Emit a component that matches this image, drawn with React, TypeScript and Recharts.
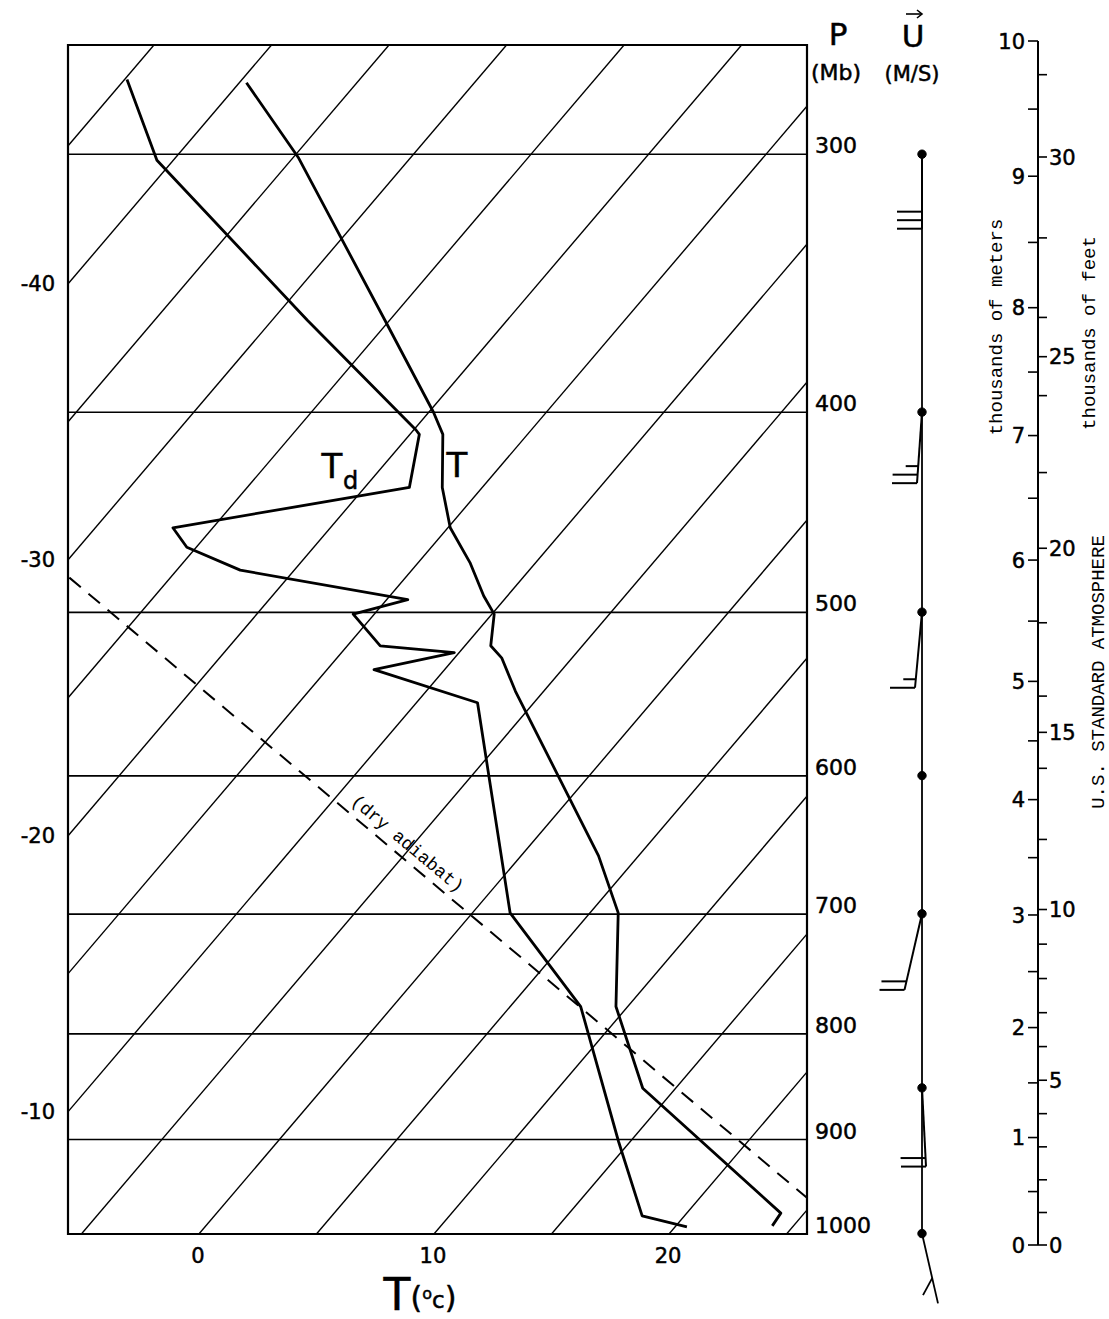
import React from "react";
import {
  ComposedChart,
  Line,
  XAxis,
  YAxis,
  ReferenceLine,
  ReferenceArea,
} from "recharts";

// skew-T / log-p: plotted x = T + SKEW * ln(1000 / p)
const SKEW = 32.5;
const P_TOP = 265.6;
const P_BOTTOM = 1000;
const X_MIN = -5.57;
const X_MAX = 25.87;

const PRESSURE_LEVELS = [300, 400, 500, 600, 700, 800, 900, 1000];
const ISOTHERMS = [-45, -40, -35, -30, -25, -20, -15, -10, -5, 0, 5, 10, 15, 20, 25];
const EDGE_LABELS = [-40, -30, -20, -10];
const BOTTOM_TICKS = [0, 10, 20];

// sounding (mb, °C)
const T_PRESSURE = [277, 301, 361, 400, 410, 435, 455, 473, 491, 501, 519, 526, 546, 656, 699, 776, 850, 977, 991];
const T_VALUES = [-39.7, -34.8, -25.2, -19.8, -18.6, -16.7, -14.9, -12.8, -11.0, -9.9, -8.9, -8.0, -6.2, 3.3, 6.2, 9.5, 13.6, 24.0, 24.1];
const TD_PRESSURE = [276, 302, 361, 408, 410, 435, 455, 465, 477, 493, 501, 519, 523, 533, 553, 699, 776, 902, 980, 992];
const TD_VALUES = [-44.9, -40.7, -28.5, -19.9, -19.6, -18.1, -26.7, -25.4, -22.3, -14.1, -15.9, -13.6, -10.2, -13.0, -7.4, 1.6, 8.0, 14.5, 18.2, 20.5];

// dry adiabat reference
const ADIABAT_PRESSURE = [481, 961];
const ADIABAT_T = [-29.3, 24.6];

// winds
const WIND_LEVELS = [300, 400, 500, 600, 700, 850, 1000];
const BARB_LEVELS = [300, 400, 500, 700, 850];
const BARB_TIP_P = [326, 433, 544, 762, 928];
const BARB_LEAN = [0, -2, -2.8, -7, 1.6];
const BARB_FEATHERS = [
  [10, 10, 10],
  [10, 10, 5],
  [10, 5],
  [10, 10],
  [10, 10],
];
const SURFACE_TIP_P = 1081;
const SURFACE_LEAN = 6.4;
const SURFACE_FEATHER_P = [1051, 1071];
const SURFACE_FEATHER_X = 0.4;

// standard atmosphere height scale
const KM_TICKS = [0, 0.5, 1, 1.5, 2, 2.5, 3, 3.5, 4, 4.5, 5, 5.5, 6, 6.5, 7, 7.5, 8, 8.5, 9, 9.5, 10];
const FT_TICKS = [0, 1, 2, 3, 4, 5, 6, 7, 8, 9, 10, 12, 14, 15, 16, 18, 20, 22, 24, 25, 26, 28, 30, 32];

const LETTER = "'DejaVu Sans', sans-serif";
const TYPE = "'Liberation Mono', 'DejaVu Sans Mono', monospace";
const PEN = { stroke: "#000", strokeWidth: 0.5 };

const skewPoint = (t: number, p: number) => ({ x: t + SKEW * Math.log(1000 / p), p });
const stdPressure = (z: number) => 1013.25 * Math.pow(1 - 2.25577e-5 * z, 5.25588);

const EDGE_TICKS = EDGE_LABELS.map((t) => 1000 * Math.exp((t - X_MIN) / SKEW));
const KM_P = KM_TICKS.map((z) => stdPressure(z * 1000));
const FT_P = FT_TICKS.map((f) => stdPressure(f * 304.8));

const tempData = T_PRESSURE.map((p, i) => skewPoint(T_VALUES[i], p));
const dewData = TD_PRESSURE.map((p, i) => skewPoint(TD_VALUES[i], p));
const adiabatData = ADIABAT_PRESSURE.map((p, i) => skewPoint(ADIABAT_T[i], p));

const FEATHER_STEP = 0.0095;

function barbParts(i: number) {
  const p0 = BARB_LEVELS[i];
  const tip = BARB_TIP_P[i];
  const lean = BARB_LEAN[i];
  const span = Math.log(tip / p0);
  const shaft = [
    { x: 0, p: p0 },
    { x: lean, p: tip },
  ];
  const feathers = BARB_FEATHERS[i].map((speed, k) => {
    const fp = tip * Math.exp(-k * FEATHER_STEP);
    const fx = (lean * Math.log(fp / p0)) / span;
    return [
      { x: fx, p: fp },
      { x: fx - speed, p: fp },
    ];
  });
  return { shaft, feathers };
}

const EdgeTick = ({ x, y, index }: any) => (
  <text x={x - 13} y={y} dy="0.36em" textAnchor="end" fontSize={21} fontFamily={LETTER} fill="#000" {...PEN}>
    {EDGE_LABELS[index] < 0 ? "-" + Math.abs(EDGE_LABELS[index]) : EDGE_LABELS[index]}
  </text>
);

const PressureTick = ({ x, y, payload }: any) => (
  <text x={x + 8} y={y - 1} fontSize={22} fontFamily={LETTER} fill="#000" {...PEN}>
    {payload.value}
  </text>
);

const BottomTick = ({ x, y, payload }: any) => (
  <text x={x - 1} y={y + 29} textAnchor="middle" fontSize={21} fontFamily={LETTER} fill="#000" {...PEN}>
    {payload.value}
  </text>
);

const KmTick = ({ x, y, index }: any) => {
  const z = KM_TICKS[index];
  return (
    <g>
      <line x1={x - 10} x2={x} y1={y} y2={y} stroke="#000" strokeWidth={1.6} />
      {Number.isInteger(z) && (
        <text x={x - 13} y={y} dy="0.36em" textAnchor="end" fontSize={21} fontFamily={LETTER} fill="#000" {...PEN}>
          {z}
        </text>
      )}
    </g>
  );
};

const FtTick = ({ x, y, index }: any) => {
  const f = FT_TICKS[index];
  return (
    <g>
      <line x1={x - 2} x2={x + 7} y1={y} y2={y} stroke="#000" strokeWidth={1.6} />
      {f % 5 === 0 && (
        <text x={x + 9} y={y} dy="0.36em" fontSize={21} fontFamily={LETTER} fill="#000" {...PEN}>
          {f}
        </text>
      )}
    </g>
  );
};

function SkewTChart() {
  return (
    <ComposedChart width={880} height={1319} margin={{ top: 45, right: 13, bottom: 55, left: 8 }}>
      <XAxis
        type="number"
        dataKey="x"
        domain={[X_MIN, X_MAX]}
        allowDataOverflow
        ticks={BOTTOM_TICKS}
        interval={0}
        axisLine={false}
        tickLine={false}
        tickSize={0}
        tickMargin={0}
        height={30}
        tick={<BottomTick />}
      />
      <YAxis
        yAxisId="iso"
        orientation="left"
        type="number"
        scale="log"
        domain={[P_TOP, P_BOTTOM]}
        reversed
        allowDataOverflow
        ticks={EDGE_TICKS}
        interval={0}
        axisLine={false}
        tickLine={false}
        tickSize={0}
        tickMargin={0}
        width={60}
        tick={<EdgeTick />}
      />
      <YAxis
        yAxisId="p"
        orientation="right"
        type="number"
        scale="log"
        domain={[P_TOP, P_BOTTOM]}
        reversed
        allowDataOverflow
        ticks={PRESSURE_LEVELS}
        interval={0}
        axisLine={false}
        tickLine={false}
        tickSize={0}
        tickMargin={0}
        width={60}
        tick={<PressureTick />}
      />
      {PRESSURE_LEVELS.slice(0, -1).map((p) => (
        <ReferenceLine key={p} yAxisId="p" y={p} stroke="#000" strokeWidth={1.6} />
      ))}
      {ISOTHERMS.map((t) => (
        <Line
          key={t}
          yAxisId="p"
          data={[skewPoint(t, P_BOTTOM), skewPoint(t, P_TOP)]}
          dataKey="p"
          stroke="#000"
          strokeWidth={1.4}
          dot={false}
          isAnimationActive={false}
        />
      ))}
      <Line
        yAxisId="p"
        data={adiabatData}
        dataKey="p"
        stroke="#000"
        strokeWidth={2}
        strokeDasharray="15 10"
        dot={false}
        isAnimationActive={false}
      />
      <Line
        yAxisId="p"
        data={dewData}
        dataKey="p"
        stroke="#000"
        strokeWidth={2.8}
        strokeLinejoin="round"
        dot={false}
        isAnimationActive={false}
      />
      <Line
        yAxisId="p"
        data={tempData}
        dataKey="p"
        stroke="#000"
        strokeWidth={2.8}
        strokeLinejoin="round"
        dot={false}
        isAnimationActive={false}
      />
      <ReferenceArea
        yAxisId="p"
        x1={X_MIN}
        x2={X_MAX}
        y1={P_TOP}
        y2={P_BOTTOM}
        fill="none"
        fillOpacity={0}
        stroke="#000"
        strokeWidth={2.2}
      />
    </ComposedChart>
  );
}

function WindColumn() {
  const barbs = BARB_LEVELS.map((_, i) => barbParts(i));
  const pSurfTop = SURFACE_FEATHER_P[0];
  const surfFx = (SURFACE_LEAN * Math.log(pSurfTop / 1000)) / Math.log(SURFACE_TIP_P / 1000);
  return (
    <ComposedChart width={90} height={1319} margin={{ top: 45, right: 10, bottom: 9, left: 10 }}>
      <XAxis type="number" dataKey="x" domain={[-20, 8]} allowDataOverflow hide />
      <YAxis type="number" scale="log" domain={[P_TOP, 1089]} reversed allowDataOverflow hide />
      <Line
        data={WIND_LEVELS.map((p) => ({ x: 0, p }))}
        dataKey="p"
        stroke="#000"
        strokeWidth={1.8}
        dot={{ r: 4.2, fill: "#000", stroke: "#000", strokeWidth: 1 }}
        isAnimationActive={false}
      />
      {barbs.map((b, i) => (
        <Line
          key={"s" + i}
          data={b.shaft}
          dataKey="p"
          stroke="#000"
          strokeWidth={2}
          dot={false}
          isAnimationActive={false}
        />
      ))}
      {barbs.flatMap((b, i) =>
        b.feathers.map((f, k) => (
          <Line
            key={"f" + i + "-" + k}
            data={f}
            dataKey="p"
            stroke="#000"
            strokeWidth={2}
            dot={false}
            isAnimationActive={false}
          />
        ))
      )}
      <Line
        data={[
          { x: 0, p: 1000 },
          { x: SURFACE_LEAN, p: SURFACE_TIP_P },
        ]}
        dataKey="p"
        stroke="#000"
        strokeWidth={1.8}
        dot={false}
        isAnimationActive={false}
      />
      <Line
        data={[
          { x: surfFx, p: SURFACE_FEATHER_P[0] },
          { x: SURFACE_FEATHER_X, p: SURFACE_FEATHER_P[1] },
        ]}
        dataKey="p"
        stroke="#000"
        strokeWidth={1.8}
        dot={false}
        isAnimationActive={false}
      />
    </ComposedChart>
  );
}

function HeightScale() {
  const pLow = KM_P[0];
  const pHigh = KM_P[KM_P.length - 1];
  return (
    <ComposedChart width={149} height={1319} margin={{ top: 41, right: 9, bottom: 74, left: 18 }}>
      <XAxis type="number" dataKey="x" domain={[0, 1]} hide />
      <YAxis
        yAxisId="km"
        orientation="left"
        type="number"
        scale="log"
        domain={[pHigh, pLow]}
        reversed
        allowDataOverflow
        ticks={KM_P}
        interval={0}
        axisLine={false}
        tickLine={false}
        tickSize={0}
        tickMargin={0}
        width={60}
        tick={<KmTick />}
      />
      <YAxis
        yAxisId="ft"
        orientation="right"
        type="number"
        scale="log"
        domain={[pHigh, pLow]}
        reversed
        allowDataOverflow
        ticks={FT_P}
        interval={0}
        axisLine={false}
        tickLine={false}
        tickSize={0}
        tickMargin={0}
        width={60}
        tick={<FtTick />}
      />
      <Line
        yAxisId="km"
        data={[
          { x: 0, p: pHigh },
          { x: 0, p: pLow },
        ]}
        dataKey="p"
        stroke="#000"
        strokeWidth={2}
        dot={false}
        isAnimationActive={false}
      />
    </ComposedChart>
  );
}

function Annotations() {
  return (
    <svg width={1109} height={1319} style={{ position: "absolute", left: 0, top: 0, pointerEvents: "none" }}>
      <g fontFamily={LETTER} fill="#000" {...PEN}>
        <text x={838} y={45} textAnchor="middle" fontSize={31}>P</text>
        <text x={836} y={80} textAnchor="middle" fontSize={22}>(Mb)</text>
        <text x={913} y={47} textAnchor="middle" fontSize={31}>U</text>
        <text x={912} y={81} textAnchor="middle" fontSize={21}>(M/S)</text>
        <text x={420} y={1310} textAnchor="middle">
          <tspan fontSize={44}>T</tspan>
          <tspan fontSize={30} dy={-2}>(</tspan>
          <tspan fontSize={16} dy={-9}>o</tspan>
          <tspan fontSize={23} dy={9}>c</tspan>
          <tspan fontSize={30}>)</tspan>
        </text>
        <text x={332} y={478} textAnchor="middle" fontSize={34}>T</text>
        <text x={343} y={489} fontSize={24}>d</text>
        <text x={457} y={477} textAnchor="middle" fontSize={34}>T</text>
      </g>
      <line x1={906} x2={921} y1={14} y2={14} stroke="#000" strokeWidth={1.6} />
      <path d="M917 10 L922 14 L917 18" fill="none" stroke="#000" strokeWidth={1.6} />
      <g fontFamily={TYPE} fill="#000">
        <text x={404} y={848} textAnchor="middle" fontSize={18} transform="rotate(40 404 848)">
          (dry adiabat)
        </text>
        <text x={995} y={327} textAnchor="middle" dy="0.35em" fontSize={19} transform="rotate(-90 995 327)">
          thousands of meters
        </text>
        <text x={1088} y={333} textAnchor="middle" dy="0.35em" fontSize={19} transform="rotate(-90 1088 333)">
          thousands of feet
        </text>
        <text x={1097} y={672} textAnchor="middle" dy="0.35em" fontSize={19} transform="rotate(-90 1097 672)">
          U.S. STANDARD ATMOSPHERE
        </text>
      </g>
    </svg>
  );
}

export default function App() {
  return (
    <div style={{ position: "absolute", left: 0, top: 0, width: 1109, height: 1319, background: "#fff" }}>
      <div style={{ position: "absolute", left: 0, top: 0 }}>
        <SkewTChart />
      </div>
      <div style={{ position: "absolute", left: 862, top: 0 }}>
        <WindColumn />
      </div>
      <div style={{ position: "absolute", left: 960, top: 0 }}>
        <HeightScale />
      </div>
      <Annotations />
    </div>
  );
}
